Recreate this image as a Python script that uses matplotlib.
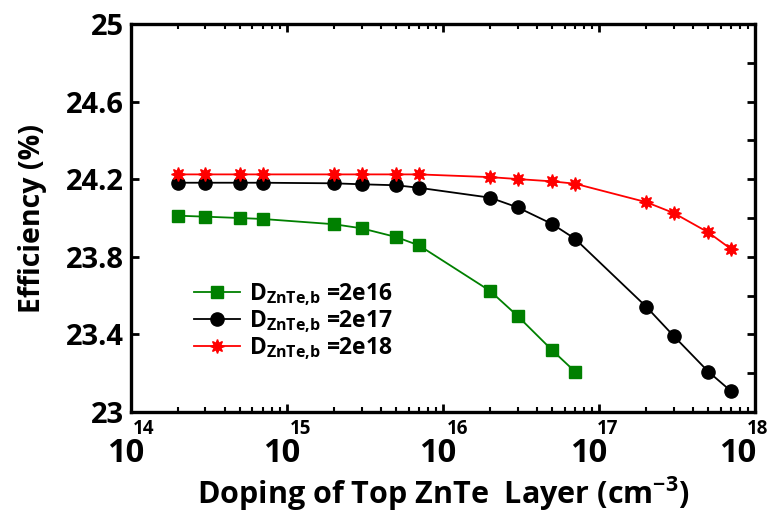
import matplotlib
matplotlib.use("Agg")
import matplotlib.pyplot as plt
from matplotlib.ticker import MultipleLocator, LogLocator, NullFormatter

plt.rcParams['font.family'] = ['Open Sans', 'DejaVu Sans']
plt.rcParams['font.weight'] = 'bold'
plt.rcParams['mathtext.fontset'] = 'custom'
plt.rcParams['mathtext.rm'] = 'Open Sans:bold'
plt.rcParams['mathtext.bf'] = 'Open Sans:bold'
plt.rcParams['mathtext.it'] = 'Open Sans:bold'
plt.rcParams['mathtext.default'] = 'regular'

# doping of top ZnTe layer (cm^-3)
doping = [2e14, 3e14, 5e14, 7e14, 2e15, 3e15, 5e15, 7e15,
          2e16, 3e16, 5e16, 7e16, 2e17, 3e17, 5e17, 7e17]

# efficiency (%) for each bottom doping
eff_2e16 = [24.012, 24.007, 24.000, 23.995, 23.968, 23.947, 23.902, 23.859,
            23.624, 23.495, 23.318, 23.208]
eff_2e17 = [24.182, 24.182, 24.182, 24.182, 24.179, 24.174, 24.169, 24.156,
            24.105, 24.055, 23.969, 23.893, 23.543, 23.392, 23.208, 23.107]
eff_2e18 = [24.225, 24.225, 24.225, 24.225, 24.225, 24.225, 24.225, 24.225,
            24.211, 24.201, 24.189, 24.177, 24.082, 24.026, 23.926, 23.840]

labels = [r'$D_{ZnTe{,}b}$ =2e16', r'$D_{ZnTe{,}b}$ =2e17', r'$D_{ZnTe{,}b}$ =2e18']
yticks = [23, 23.4, 23.8, 24.2, 24.6, 25]
ytick_labels = ['23', '23.4', '23.8', '24.2', '24.6', '25']
decades = [14, 15, 16, 17, 18]

fig = plt.figure(figsize=(7.72, 5.13), dpi=100)
ax = fig.add_axes([0.1697, 0.197, 0.8086, 0.756])

ax.plot(doping[:len(eff_2e16)], eff_2e16, color='#008000', lw=1.3,
        marker='s', ms=8, label=labels[0])
ax.plot(doping, eff_2e17, color='black', lw=1.3,
        marker='o', ms=9.5, label=labels[1])
ax.plot(doping, eff_2e18, color='red', lw=1.3,
        marker=(8, 1, 0), ms=10, label=labels[2])

ax.set_xscale('log')
ax.set_xlim(1e14, 1e18)
ax.set_ylim(23, 25)

ax.set_yticks(yticks)
ax.set_yticklabels(ytick_labels)
ax.yaxis.set_minor_locator(MultipleLocator(0.2))
ax.tick_params(axis='y', which='major', direction='in', length=6, width=2,
               left=True, right=True, labelsize=21, pad=5)
ax.tick_params(axis='y', which='minor', direction='in', length=6, width=2,
               left=False, right=True)

ax.xaxis.set_major_locator(LogLocator(base=10, numticks=10))
ax.xaxis.set_minor_locator(LogLocator(base=10, subs=range(2, 10), numticks=10))
ax.xaxis.set_major_formatter(NullFormatter())
ax.xaxis.set_minor_formatter(NullFormatter())
ax.tick_params(axis='x', which='major', direction='in', length=6, width=2,
               bottom=True, top=True)
ax.tick_params(axis='x', which='minor', direction='in', length=3.5, width=1.5,
               bottom=True, top=True)

# 10 with the exponent up and to the right, as in the original
ten_dx = [-5, -5, -5, -11, -18]
exp_dx = [2, 3, 4, -2, -8]
for k, d1, d2 in zip(decades, ten_dx, exp_dx):
    ax.annotate('10', xy=(10.0 ** k, 0), xycoords=('data', 'axes fraction'),
                xytext=(d1, -50), textcoords='offset pixels',
                ha='center', va='baseline', fontsize=23.5, fontweight='bold')
    ax.annotate(str(k), xy=(10.0 ** k, 0), xycoords=('data', 'axes fraction'),
                xytext=(d2, -22), textcoords='offset pixels',
                ha='left', va='baseline', fontsize=13.5, fontweight='bold')

for s in ax.spines.values():
    s.set_linewidth(2.4)

ax.set_xlabel(r'Doping of Top ZnTe  Layer (cm$^{-3}$)', fontsize=22,
              fontweight='bold', labelpad=42)
ax.set_ylabel('Efficiency (%)', fontsize=20.5, fontweight='bold', labelpad=14)

ax.legend(loc='upper left', bbox_to_anchor=(0.087, 0.36), frameon=False,
          fontsize=16.5, handlelength=2.0, handletextpad=0.4, labelspacing=0.0,
          borderaxespad=0)

fig.savefig('out.png', dpi=100)
